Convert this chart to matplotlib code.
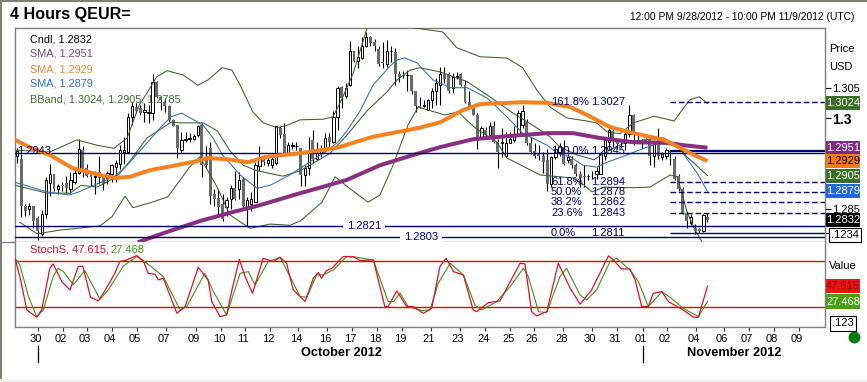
import matplotlib
matplotlib.use("Agg")
import matplotlib.pyplot as plt
import numpy as np
from matplotlib.patches import Rectangle
from matplotlib.transforms import ScaledTranslation

plt.rcParams["font.family"] = ["Liberation Sans", "DejaVu Sans"]

W, H = 867, 382

# 4 hour candles
opens = [
    1.2937, 1.2932, 1.2855, 1.2850, 1.2855, 1.2835, 1.2808, 1.2841, 1.2893, 1.2907,
    1.2883, 1.2889, 1.2892, 1.2883, 1.2894, 1.2910, 1.2948, 1.2918, 1.2911, 1.2902,
    1.2911, 1.2908, 1.2901, 1.2908, 1.2919, 1.2924, 1.2944, 1.2944, 1.3002, 1.3018,
    1.3016, 1.3010, 1.3008, 1.3008, 1.3059, 1.3034, 1.3026, 1.3020, 1.2997, 1.2988,
    1.2948, 1.2964, 1.2966, 1.2966, 1.2972, 1.2989, 1.2933, 1.2951, 1.2875, 1.2868,
    1.2858, 1.2853, 1.2866, 1.2884, 1.2883, 1.2899, 1.2853, 1.2858, 1.2862, 1.2921,
    1.2930, 1.2926, 1.2922, 1.2925, 1.2983, 1.2973, 1.2943, 1.2954, 1.2953, 1.2950,
    1.2906, 1.2917, 1.2964, 1.2932, 1.2942, 1.2950, 1.2969, 1.2960, 1.3001, 1.3051,
    1.3036, 1.3054, 1.3110, 1.3094, 1.3099, 1.3119, 1.3133, 1.3125, 1.3114, 1.3092,
    1.3089, 1.3110, 1.3109, 1.3073, 1.3071, 1.3071, 1.3071, 1.3044, 1.3020, 1.3019,
    1.3014, 1.3030, 1.3044, 1.3055, 1.3072, 1.3072, 1.3049, 1.3068, 1.3072, 1.3054,
    1.3027, 1.3016, 1.3005, 1.2968, 1.2980, 1.2972, 1.2987, 1.2961, 1.2958, 1.2938,
    1.2959, 1.2963, 1.2974, 1.2988, 1.2994, 1.2958, 1.2946, 1.2940, 1.2938, 1.2930,
    1.2891, 1.2936, 1.2944, 1.2952, 1.2930, 1.2933, 1.2923, 1.2908, 1.2905, 1.2904,
    1.2905, 1.2908, 1.2908, 1.2938, 1.2961, 1.2979, 1.2961, 1.2960, 1.2958, 1.2974,
    1.3005, 1.2963, 1.2962, 1.2963, 1.2963, 1.2938, 1.2963, 1.2936, 1.2938, 1.2945,
    1.2933, 1.2905, 1.2883, 1.2844, 1.2827, 1.2819, 1.2817, 1.2813, 1.2837,
]
highs = [
    1.2950, 1.2940, 1.2858, 1.2860, 1.2855, 1.2838, 1.2849, 1.2902, 1.2924, 1.2907,
    1.2891, 1.2894, 1.2905, 1.2911, 1.2919, 1.2966, 1.2953, 1.2924, 1.2913, 1.2913,
    1.2937, 1.2908, 1.2913, 1.2924, 1.2930, 1.2955, 1.2969, 1.3008, 1.3027, 1.3024,
    1.3022, 1.3024, 1.3022, 1.3073, 1.3061, 1.3037, 1.3033, 1.3022, 1.2999, 1.2988,
    1.2977, 1.2977, 1.2975, 1.2974, 1.2988, 1.2992, 1.2953, 1.2960, 1.2883, 1.2883,
    1.2875, 1.2869, 1.2889, 1.2912, 1.2911, 1.2903, 1.2869, 1.2878, 1.2928, 1.2954,
    1.2939, 1.2936, 1.2939, 1.2987, 1.2986, 1.2992, 1.2961, 1.2960, 1.2960, 1.2950,
    1.2922, 1.2969, 1.2980, 1.2961, 1.2956, 1.2975, 1.2975, 1.3012, 1.3053, 1.3053,
    1.3058, 1.3127, 1.3111, 1.3119, 1.3134, 1.3142, 1.3136, 1.3130, 1.3118, 1.3126,
    1.3128, 1.3118, 1.3116, 1.3077, 1.3077, 1.3080, 1.3071, 1.3044, 1.3034, 1.3030,
    1.3031, 1.3049, 1.3066, 1.3084, 1.3084, 1.3076, 1.3074, 1.3076, 1.3074, 1.3063,
    1.3044, 1.3018, 1.3008, 1.2986, 1.2985, 1.2994, 1.2995, 1.2966, 1.2983, 1.2977,
    1.2977, 1.2987, 1.3014, 1.3022, 1.2998, 1.2968, 1.2958, 1.2955, 1.2944, 1.2949,
    1.2938, 1.2955, 1.2958, 1.2964, 1.2941, 1.2938, 1.2926, 1.2913, 1.2922, 1.2908,
    1.2913, 1.2919, 1.2944, 1.2969, 1.2983, 1.2983, 1.2966, 1.2963, 1.2980, 1.3022,
    1.3007, 1.2974, 1.2966, 1.2969, 1.2966, 1.2963, 1.2983, 1.2944, 1.2950, 1.2947,
    1.2938, 1.2908, 1.2886, 1.2846, 1.2841, 1.2825, 1.2819, 1.2842, 1.2843,
]
lows = [
    1.2925, 1.2836, 1.2838, 1.2840, 1.2819, 1.2799, 1.2805, 1.2835, 1.2872, 1.2880,
    1.2874, 1.2880, 1.2877, 1.2877, 1.2891, 1.2907, 1.2903, 1.2902, 1.2888, 1.2874,
    1.2891, 1.2882, 1.2891, 1.2894, 1.2894, 1.2916, 1.2924, 1.2942, 1.2988, 1.3008,
    1.3005, 1.2994, 1.2991, 1.2997, 1.3033, 1.3013, 1.3010, 1.2994, 1.2986, 1.2934,
    1.2942, 1.2961, 1.2960, 1.2964, 1.2968, 1.2903, 1.2917, 1.2858, 1.2855, 1.2842,
    1.2830, 1.2839, 1.2850, 1.2864, 1.2867, 1.2853, 1.2822, 1.2847, 1.2861, 1.2913,
    1.2922, 1.2920, 1.2917, 1.2922, 1.2967, 1.2939, 1.2940, 1.2949, 1.2947, 1.2888,
    1.2888, 1.2906, 1.2925, 1.2931, 1.2936, 1.2944, 1.2950, 1.2958, 1.2981, 1.3017,
    1.3033, 1.3053, 1.3092, 1.3083, 1.3097, 1.3117, 1.3119, 1.3111, 1.3085, 1.3082,
    1.3084, 1.3092, 1.3055, 1.3060, 1.3066, 1.3045, 1.3040, 1.3010, 1.3016, 1.3018,
    1.3013, 1.3016, 1.3022, 1.3022, 1.3058, 1.3041, 1.3042, 1.3064, 1.3052, 1.3024,
    1.3016, 1.3005, 1.2949, 1.2966, 1.2968, 1.2968, 1.2958, 1.2918, 1.2936, 1.2936,
    1.2958, 1.2960, 1.2972, 1.2983, 1.2955, 1.2940, 1.2934, 1.2930, 1.2910, 1.2880,
    1.2886, 1.2933, 1.2938, 1.2922, 1.2926, 1.2918, 1.2905, 1.2886, 1.2886, 1.2897,
    1.2899, 1.2899, 1.2907, 1.2930, 1.2947, 1.2952, 1.2949, 1.2951, 1.2947, 1.2969,
    1.2955, 1.2958, 1.2950, 1.2958, 1.2922, 1.2919, 1.2933, 1.2930, 1.2933, 1.2923,
    1.2897, 1.2879, 1.2841, 1.2818, 1.2824, 1.2808, 1.2811, 1.2812, 1.2828,
]
closes = [
    1.2945, 1.2855, 1.2847, 1.2855, 1.2830, 1.2813, 1.2841, 1.2897, 1.2908, 1.2883,
    1.2888, 1.2888, 1.2884, 1.2897, 1.2910, 1.2949, 1.2913, 1.2905, 1.2902, 1.2905,
    1.2901, 1.2891, 1.2909, 1.2922, 1.2925, 1.2947, 1.2948, 1.3002, 1.3019, 1.3011,
    1.3009, 1.3014, 1.3010, 1.3059, 1.3034, 1.3030, 1.3020, 1.2997, 1.2987, 1.2950,
    1.2964, 1.2966, 1.2967, 1.2970, 1.2986, 1.2922, 1.2922, 1.2872, 1.2866, 1.2853,
    1.2833, 1.2864, 1.2884, 1.2867, 1.2898, 1.2855, 1.2864, 1.2866, 1.2923, 1.2933,
    1.2928, 1.2931, 1.2933, 1.2986, 1.2972, 1.2942, 1.2955, 1.2955, 1.2953, 1.2906,
    1.2918, 1.2944, 1.2933, 1.2943, 1.2949, 1.2967, 1.2960, 1.3001, 1.3050, 1.3033,
    1.3050, 1.3110, 1.3094, 1.3100, 1.3119, 1.3133, 1.3123, 1.3119, 1.3089, 1.3090,
    1.3110, 1.3111, 1.3072, 1.3068, 1.3069, 1.3071, 1.3044, 1.3020, 1.3018, 1.3022,
    1.3029, 1.3045, 1.3058, 1.3072, 1.3064, 1.3044, 1.3068, 1.3070, 1.3054, 1.3027,
    1.3016, 1.3005, 1.2969, 1.2983, 1.2972, 1.2986, 1.2961, 1.2944, 1.2960, 1.2959,
    1.2965, 1.2970, 1.3009, 1.3011, 1.2958, 1.2944, 1.2937, 1.2938, 1.2927, 1.2891,
    1.2936, 1.2949, 1.2952, 1.2924, 1.2936, 1.2922, 1.2908, 1.2901, 1.2903, 1.2904,
    1.2904, 1.2913, 1.2941, 1.2963, 1.2980, 1.2963, 1.2957, 1.2959, 1.2974, 1.3005,
    1.2977, 1.2960, 1.2961, 1.2962, 1.2938, 1.2961, 1.2938, 1.2941, 1.2947, 1.2944,
    1.2899, 1.2883, 1.2844, 1.2830, 1.2836, 1.2814, 1.2813, 1.2840, 1.2832,
]

# indicators, sampled at the bends of each curve (x = candle number)
orange_x = [-0.5, 3, 8, 13.6, 20.2, 23.8, 27.5, 32.4, 38, 43.8, 46.5, 51, 56.2, 60.8, 68.9, 77.9, 86.6, 98, 103,
            108.5, 112.7, 123, 129, 134.6, 138.7, 144.3, 150, 157.4, 161.3, 164.7, 168]
orange_y = [1.2964, 1.2952, 1.2939, 1.2917, 1.2906, 1.2901, 1.2903, 1.2914, 1.2921, 1.2929, 1.2934, 1.2932, 1.2927,
            1.2936, 1.2942, 1.2951, 1.2969, 1.2984, 1.2993, 1.3013, 1.3023, 1.3026, 1.3025, 1.3018, 1.3005, 1.2985,
            1.2975, 1.2964, 1.2951, 1.2939, 1.2929]
purple_x = [29.4, 36.5, 44.5, 52.6, 59, 68.9, 73.7, 80.3, 88.3, 96.4, 103, 111, 119.2, 129, 135.3, 141.8, 150, 158,
            162.3, 168]
purple_y = [1.2795, 1.2812, 1.2830, 1.2845, 1.2856, 1.2876, 1.2885, 1.2898, 1.2922, 1.2939, 1.2952, 1.2965, 1.2970,
            1.2975, 1.2975, 1.2967, 1.2960, 1.2959, 1.2955, 1.2951]
blue_x = [-0.5, 3.4, 7.3, 12.7, 15, 18.7, 23.6, 26.8, 31.6, 35, 37.5, 40, 43, 45.3, 47.7, 50, 54.3, 58.4, 61.6, 66.4,
          74.5, 77.9, 80.3, 83.5, 86.6, 90.8, 92.5, 94.4, 97.3, 101.2, 105.4, 109.5, 114.4, 119.2, 123, 129, 131.4,
          134.6, 137.7, 141, 143.6, 148.4, 153.3, 157.2, 160.6, 162, 165.5, 168]
blue_y = [1.2894, 1.2886, 1.2878, 1.2873, 1.2878, 1.2889, 1.2903, 1.2922, 1.2959, 1.2985, 1.3002, 1.3008, 1.2997,
          1.2988, 1.2967, 1.2939, 1.2906, 1.2884, 1.2889, 1.2906, 1.2942, 1.2959, 1.2979, 1.3012, 1.3054, 1.3086,
          1.3096, 1.3099, 1.3091, 1.3063, 1.3050, 1.3050, 1.3033, 1.3002, 1.2975, 1.2955, 1.2942, 1.2936, 1.2922,
          1.2919, 1.2927, 1.2939, 1.2952, 1.2960, 1.2959, 1.2942, 1.2909, 1.2879]
bb_up_x = [-0.5, 8, 14.6, 19.5, 23.6, 26.8, 29.7, 31.6, 34, 36.5, 40.4, 44, 46.5, 49.9, 52.3, 54.3, 57.4, 59.9, 63.3,
           65.7, 68.9, 74.5, 76.9, 79.3, 81.8, 85.2, 90.8, 96.4, 103.6, 107, 112.7, 119.2, 123, 126.5, 129.7, 133.8,
           138.7, 141, 143.6, 146.7, 150, 155, 159.9, 161.8, 163.7, 166, 168]
bb_up_y = [1.2947, 1.2944, 1.2964, 1.2955, 1.2950, 1.2967, 1.3021, 1.3041, 1.3068, 1.3078, 1.3071, 1.3054, 1.3063,
           1.3083, 1.3079, 1.3054, 1.3010, 1.2992, 1.2984, 1.2988, 1.2997, 1.2998, 1.3002, 1.3035, 1.3074, 1.3149,
           1.3165, 1.3149, 1.3142, 1.3116, 1.3101, 1.3099, 1.3083, 1.3046, 1.3018, 1.3000, 1.2995, 1.2992, 1.2977,
           1.2974, 1.2992, 1.3003, 1.2995, 1.3013, 1.3030, 1.3035, 1.3024]
bb_mid_x = [-0.5, 7.3, 12.9, 15.6, 19.5, 24.3, 27.7, 31.6, 37.5, 39.7, 45.3, 48.7, 51.8, 55, 58.4, 64.7, 68.9, 73,
            76.2, 80.3, 85.2, 90, 92.5, 95.6, 98, 103, 109.5, 114.4, 120.7, 125.5, 129.7, 132.1, 136.3, 140.4, 142.8,
            147.7, 152.6, 157.4, 160.6, 163, 168]
bb_mid_y = [1.2889, 1.2876, 1.2876, 1.2889, 1.2886, 1.2903, 1.2931, 1.2967, 1.2993, 1.2992, 1.2992, 1.2979, 1.2946,
            1.2922, 1.2913, 1.2904, 1.2913, 1.2929, 1.2942, 1.2972, 1.3012, 1.3043, 1.3063, 1.3079, 1.3083, 1.3076,
            1.3060, 1.3038, 1.3008, 1.2988, 1.2969, 1.2952, 1.2939, 1.2931, 1.2942, 1.2959, 1.2964, 1.2967, 1.2955,
            1.2936, 1.2905]
bb_low_x = [0.7, 4.9, 10.5, 20.2, 23.1, 26.3, 28.2, 32.4, 36.7, 42, 44.5, 48.7, 51.8, 56.7, 61.6, 66.4, 68.9, 74.2,
            77.4, 80.5, 85.4, 88.3, 91.5, 95.1, 97.6, 104.1, 107.3, 111.4, 116.8, 119.2, 127.3, 135.3, 138, 139.9,
            142.8, 150, 154, 158.9, 160.6, 161.8, 163, 165, 166.7, 168]
bb_low_y = [1.2828, 1.2809, 1.2815, 1.2822, 1.2837, 1.2871, 1.2852, 1.2860, 1.2870, 1.2919, 1.2936, 1.2886, 1.2840,
            1.2818, 1.2825, 1.2823, 1.2830, 1.2861, 1.2903, 1.2886, 1.2861, 1.2873, 1.2922, 1.2988, 1.3018, 1.3005,
            1.3010, 1.2984, 1.2960, 1.2934, 1.2906, 1.2901, 1.2889, 1.2878, 1.2886, 1.2885, 1.2886, 1.2906, 1.2903,
            1.2876, 1.2845, 1.2815, 1.2795, 1.2785]

stoch_fast_x = [-0.5, 0.7, 2.4, 4.8, 6, 8, 8.8, 10.9, 12.9, 14.9, 16, 17.9, 19.8, 21.4, 23.8, 25, 26.7, 29.1, 30.7,
                31.9, 33.6, 34.4, 35.6, 38.9, 40.9, 44.1, 46.5, 47.4, 49.4, 51, 52.2, 54.1, 55.5, 57.3, 59.9, 62.4,
                64, 65.6, 67.2, 68.9, 70.1, 72.1, 73.3, 74.1, 75.3, 76.6, 79.4, 81.8, 83.5, 86.7, 88.3, 89.5, 90.3,
                92.4, 94.8, 96.4, 98.9, 100.9, 102.9, 104.4, 106.2, 108.6, 111, 111.8, 114.7, 117.5, 122.4, 123.6,
                125.2, 126.4, 128.9, 131.7, 134.6, 137, 139.8, 143.9, 145.1, 147.1, 149.1, 150.4, 152, 153.6, 154.8,
                156.9, 158.5, 162.1, 164.6, 165.8, 168]
stoch_fast_y = [83.9, 60, 16.5, 7, 16.5, 70.9, 76.5, 53.5, 42.6, 73, 73.9, 33, 28.3, 41.7, 64.3, 79.6, 81.7, 87.4,
                80.9, 64.3, 63, 55.7, 57.8, 12.2, 20.9, 72.2, 55.7, 27.4, 7.8, 10, 40.4, 82.6, 60, 38.3, 83.9, 79.6,
                85.2, 77.4, 42.6, 33.9, 27.4, 57.8, 65.2, 57.8, 67.8, 70.9, 86.1, 86.1, 80.9, 81.7, 47, 20.9, 20.9,
                41.3, 20.9, 20.9, 12.2, 18.7, 73, 83.9, 66.5, 62.2, 16.5, 14.3, 26.1, 28.3, 77.4, 76.5, 14.3, 8.7,
                14.3, 77.4, 44.8, 24, 42.6, 87, 81.7, 70, 70, 55.7, 20.9, 20.9, 38.3, 40.4, 27.4, 16.5, 7, 7, 47.615]
stoch_slow_x = [-0.5, 0.7, 2.8, 4.8, 6.4, 8.8, 10, 11.3, 13.7, 16.5, 20.2, 22.2, 25.9, 29.1, 31.6, 35.6, 39.7, 41.3,
                45.7, 47.8, 51, 54.3, 56.3, 57.9, 61.1, 64, 66, 68.9, 70.5, 72.9, 74.5, 77, 80.2, 82.6, 86.7, 88.7,
                90.3, 91.6, 93.2, 95.2, 98.5, 100.5, 102.5, 105.4, 108.6, 111.4, 113.1, 116.7, 120, 123.2, 124.4,
                126.9, 128.9, 132.1, 133.7, 137, 138.6, 141, 144.3, 145.9, 149.1, 151.2, 153.6, 156.9, 159.7, 162.1,
                165.8, 168]
stoch_slow_y = [83.9, 75.2, 33.9, 7.8, 16.5, 60, 70.9, 66.5, 49.1, 67.8, 30.4, 42.6, 73.9, 86.1, 77.4, 60, 16.5, 20.9,
                64.3, 40.4, 10, 64.3, 66.5, 49.1, 79.6, 85.2, 64.3, 34, 33, 62.2, 62.2, 68.7, 86.1, 85.2, 81.7, 51.3,
                27.4, 27.4, 38.3, 20.9, 15.7, 16.5, 51.3, 77.4, 62.2, 23, 16.5, 27.4, 47, 70.9, 60, 14.3, 13, 60, 70.9,
                36.1, 29.6, 42.6, 79.6, 83.9, 68.7, 53.5, 20.9, 40.4, 29.6, 18.7, 7.8, 27.468]

# date axis
day_ticks = [5.1, 11.2, 17, 23.1, 29.2, 36.3, 43.6, 49.6, 55.5, 61.6, 68.4, 75.4, 81.5, 87.6, 93.7, 100.7, 107.8,
             113.9, 120, 125.8, 132.9, 139.9, 146, 152.3, 158.2, 165.2, 172, 178.1, 184.2, 190.3]
day_labels = ["30", "02", "03", "04", "05", "07", "09", "10", "11", "12", "14", "16", "17", "18", "19", "21", "23",
              "24", "25", "26", "28", "30", "31", "01", "02", "04", "06", "07", "08", "09"]
month_ticks = [5.1, 152.3]

# reference levels
solid_levels = [1.2943, 1.2821, 1.2803]
fib_levels = [1.3027, 1.2945, 1.2894, 1.2878, 1.2862, 1.2843, 1.2811]
fib_names = ["161.8%", "100.0%", "61.8%", "50.0%", "38.2%", "23.6%", "0.0%"]

price_tags = [1.3024, 1.2951, 1.2929, 1.2905, 1.2879, 1.2832]
price_tag_colors = ["#3c6e2a", "#7c2d80", "#f57c14", "#3c6e2a", "#2268d8", "#000000"]
price_tag_text = ["white", "white", "black", "white", "white", "white"]

NAVY = "#000070"
ORANGE = "#f58220"
PURPLE = "#87307f"
BLUE = "#2f6db5"
GREEN = "#3d5f2a"
GRAY = "#808080"


def px_x(x):
    return x / W


def px_y(y):
    return 1 - y / H


fig = plt.figure(figsize=(W / 100, H / 100), dpi=100, facecolor="white")

# window edges
fig.add_artist(Rectangle((0, 0), 1, px_y(379), transform=fig.transFigure, fc="#f3f3ec", ec="none"))
fig.add_artist(Rectangle((0, px_y(379)), 2 / W, 1, transform=fig.transFigure, fc="#808070", ec="none"))
fig.add_artist(Rectangle((0, px_y(2)), 1, 2 / H, transform=fig.transFigure, fc="#808070", ec="none"))
fig.add_artist(plt.Line2D([0, px_x(15)], [px_y(242), px_y(242)], color=GRAY, lw=1))

left, right = px_x(15), px_x(825)
ax = fig.add_axes([left, px_y(242), right - left, px_y(28) - px_y(242)])
ax2 = fig.add_axes([left, px_y(327), right - left, px_y(242) - px_y(327)])

x_lo, x_hi = (15 - 17) / 4.11, (825 - 17) / 4.11
ax.set_xlim(x_lo, x_hi)
ax.set_ylim(1.27954, 1.31485)
ax2.set_xlim(x_lo, x_hi)
ax2.set_ylim(-5.7, 105.1)

for a in (ax, ax2):
    for s in a.spines.values():
        s.set_color(GRAY)
        s.set_linewidth(1)
    a.spines["top"].set_visible(a is ax)
    a.set_zorder(2)

# candles
n = np.arange(len(closes))
o, h, l, c = map(np.array, (opens, highs, lows, closes))
up = c >= o
ax.vlines(n, l, h, color="black", lw=0.8, zorder=2)
ax.bar(n[~up], (o - c)[~up], bottom=c[~up], width=0.72, color="#6a6a6a", lw=0, zorder=3)
ax.bar(n[up], (c - o)[up], bottom=o[up], width=0.55, fc="white", ec="black", lw=0.7, zorder=3)

# indicators
ax.plot(bb_up_x, bb_up_y, color=GREEN, lw=0.75, zorder=4)
ax.plot(bb_mid_x, bb_mid_y, color=GREEN, lw=0.75, zorder=4)
ax.plot(bb_low_x, bb_low_y, color=GREEN, lw=0.75, zorder=4)
ax.plot(blue_x, blue_y, color=BLUE, lw=0.75, zorder=4)
ax.plot(purple_x, purple_y, color=PURPLE, lw=2.9, zorder=5, solid_capstyle="butt")
ax.plot(orange_x, orange_y, color=ORANGE, lw=2.9, zorder=6, solid_capstyle="butt")

# level lines
for lev in solid_levels:
    ax.axhline(lev, color=NAVY, lw=1, zorder=5)
fib_start = (670 - 17) / 4.11
for lev in fib_levels:
    solid = lev in (1.2945, 1.2811)
    ax.hlines(lev, fib_start, x_hi, color=NAVY, lw=1.6 if lev == 1.2945 else 1,
              linestyles="solid" if solid else (0, (4, 2)), zorder=5)

lab = dict(color=NAVY, fontsize=8, va="center", zorder=7)
ax.text((17 - 17) / 4.11, 1.2943 + 0.00025, "1.2943", ha="left", **lab)
ax.text((364 - 17) / 4.11, 1.2821, "1.2821", ha="center", bbox=dict(fc="white", ec="none", pad=2.5), **lab)
ax.text((421 - 17) / 4.11, 1.2803, "1.2803", ha="center", bbox=dict(fc="white", ec="none", pad=2.5), **lab)
for lev, name in zip(fib_levels, fib_names):
    ax.text((551 - 17) / 4.11, lev, name, ha="left", **lab)
    ax.text((591 - 17) / 4.11, lev, f"{lev:.4f}", ha="left", **lab)

# legend block
leg = [("Cndl, 1.2832", "black"), ("SMA, 1.2951", "#7a3f86"), ("SMA, 1.2929", "#e08a34"),
       ("SMA, 1.2879", "#2f6db5"), ("BBand, 1.3024, 1.2905, 1.2785", "#3d6b2f")]
for i, (txt, col) in enumerate(leg):
    fig.text(px_x(30), px_y(39 + 15 * i), txt, color=col, fontsize=7.8, va="center", zorder=8)

# right price scale
ax.yaxis.tick_right()
ax.set_yticks([1.305, 1.3, 1.285])
ax.set_yticklabels(["1.305", "1.3", "1.285"], fontsize=8)
ax.get_yticklabels()[1].set_fontweight("bold")
ax.get_yticklabels()[1].set_fontsize(10)
ax.tick_params(axis="y", length=4, width=0.8, color="black", pad=1)
ax.set_xticks([])
fig.text(px_x(829), px_y(49), "Price", fontsize=8, va="center")
fig.text(px_x(829), px_y(67), "USD", fontsize=8, va="center")

trans = ax.get_yaxis_transform()
for val, fc, tc in zip(price_tags, price_tag_colors, price_tag_text):
    ax.add_patch(Rectangle((1.001, val - 0.00115), 34 / 810, 0.0023, transform=trans, fc=fc, ec="none",
                           clip_on=False, zorder=8))
    ax.text(1 + 18 / 810, val, f"{val:.4f}", transform=trans, ha="center", va="center", color=tc, fontsize=8,
            zorder=9, clip_on=False)

# crosshair value box
ax.text(1 + 20 / 810, 1.2807, ".1234", transform=trans, ha="center", va="center", fontsize=8, zorder=9,
        bbox=dict(fc="white", ec="black", lw=0.8, pad=1.6), clip_on=False)
ax.hlines(1.2811, 1, 1 + 5 / 810, transform=trans, color="black", lw=0.8, clip_on=False)

# stochastic panel
ax2.axhline(80, color="#d01010", lw=1, zorder=1)
ax2.axhline(20, color="#d01010", lw=1, zorder=1)
ax2.plot(stoch_slow_x, stoch_slow_y, color="#3f8f1a", lw=0.8, zorder=3)
ax2.plot(stoch_fast_x, stoch_fast_y, color="#e0102a", lw=0.9, zorder=4)
ax2.yaxis.tick_right()
ax2.set_yticks([])
ax2.set_xticks(day_ticks)
ax2.set_xticklabels(day_labels, fontsize=8)
ax2.tick_params(axis="x", length=3, width=0.8, color="#333333", pad=2)
shift = ScaledTranslation(-2 / 100, 0, fig.dpi_scale_trans)
for t in ax2.get_xticklabels():
    t.set_transform(t.get_transform() + shift)

fig.text(px_x(30), px_y(250), "StochS, 47.615,", color="#c81020", fontsize=8, va="center", zorder=8)
fig.text(px_x(110), px_y(250), "27.468", color="#3f8f1a", fontsize=8, va="center", zorder=8)
fig.text(px_x(829), px_y(266), "Value", fontsize=8, va="center")

trans2 = ax2.get_yaxis_transform()
for val, fc, tc in [(47.615, "#f01010", "#7a1010"), (27.468, "#4aa012", "white")]:
    ax2.add_patch(Rectangle((1.001, val - 9.5), 34 / 810, 19, transform=trans2, fc=fc, ec="none", clip_on=False,
                            zorder=8))
    ax2.text(1 + 18 / 810, val, f"{val:.3f}", transform=trans2, ha="center", va="center", color=tc, fontsize=8,
             zorder=9, clip_on=False)
ax2.text(1 + 18 / 810, -1, ".123", transform=trans2, ha="center", va="center", fontsize=8, zorder=9,
         bbox=dict(fc="white", ec="black", lw=0.8, pad=1.6), clip_on=False)

# month markers
for m in month_ticks:
    ax2.plot([m, m], [-0.224, -0.41], transform=ax2.get_xaxis_transform(), color="black", lw=0.9, clip_on=False)
fig.text(px_x(341), px_y(353), "October 2012", fontsize=9.2, fontweight="bold", ha="center", va="center")
fig.text(px_x(734), px_y(353), "November 2012", fontsize=9.2, fontweight="bold", ha="center", va="center")

# header
fig.text(px_x(10), px_y(14), "4 Hours QEUR=", fontsize=11.6, fontweight="bold", va="center")
fig.text(px_x(855), px_y(17), "12:00 PM 9/28/2012 - 10:00 PM 11/9/2012 (UTC)", fontsize=7.4, ha="right", va="center")

fig.add_artist(plt.Line2D([854 / W], [px_y(337)], marker="o", markersize=8.6, color="#0a7a14", mew=0))

fig.savefig("out.png", dpi=100, facecolor=fig.get_facecolor())
plt.close(fig)
